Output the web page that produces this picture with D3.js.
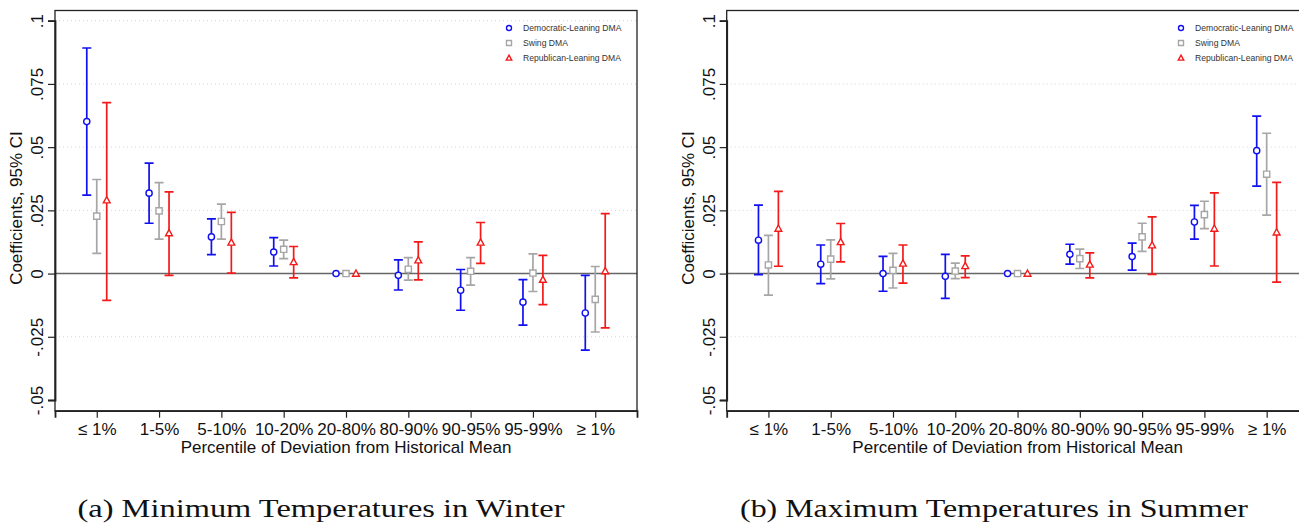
<!DOCTYPE html>
<html>
<head>
<meta charset="utf-8">
<script src="https://cdn.jsdelivr.net/npm/d3@7"></script>
<style>
  body { margin: 0; background: #fff; }
  svg { display: block; font-family: "Liberation Sans", Arial, sans-serif; }
</style>
</head>
<body>
<svg id="chart" width="1299" height="523"></svg>
<script>
// categories on the x axis
const categories = ["\u2264 1%", "1-5%", "5-10%", "10-20%", "20-80%", "80-90%", "90-95%", "95-99%", "\u2265 1%"];
const seriesNames = ["Democratic-Leaning DMA", "Swing DMA", "Republican-Leaning DMA"];
const yTicks = [-0.05, -0.025, 0, 0.025, 0.05, 0.075, 0.1];

// (a) minimum temperatures in winter
const winterDem    = [0.0601, 0.0318, 0.0145, 0.0085, 0, -0.0007, -0.0066, -0.0113, -0.0156];
const winterDemLo  = [0.0310, 0.0199, 0.0075, 0.0030, 0, -0.0065, -0.0145, -0.0204, -0.0303];
const winterDemHi  = [0.0892, 0.0437, 0.0216, 0.0142, 0,  0.0054,  0.0016, -0.0024, -0.0007];
const winterSwing   = [0.0227, 0.0248, 0.0206, 0.0096, 0, 0.0017, 0.0009, 0.0002, -0.0102];
const winterSwingLo = [0.0080, 0.0136, 0.0136, 0.0059, 0, -0.0026, -0.0046, -0.0071, -0.0231];
const winterSwingHi = [0.0372, 0.0360, 0.0275, 0.0132, 0, 0.0063, 0.0063, 0.0078, 0.0028];
const winterRep   = [0.0290, 0.0160, 0.0123, 0.0046, 0, 0.0053, 0.0123, -0.0024, 0.0010];
const winterRepLo = [-0.0106, -0.0007, 0.0002, -0.0017, 0, -0.0025, 0.0040, -0.0123, -0.0215];
const winterRepHi = [0.0676, 0.0323, 0.0242, 0.0107, 0, 0.0125, 0.0202, 0.0072, 0.0237];

// (b) maximum temperatures in summer
const summerDem    = [0.0132, 0.0037, 0, -0.0011, 0, 0.0076, 0.0067, 0.0204, 0.0486];
const summerDemLo  = [-0.0004, -0.0040, -0.0070, -0.0098, 0, 0.0037, 0.0014, 0.0136, 0.0346];
const summerDemHi  = [0.0271, 0.0113, 0.0068, 0.0076, 0, 0.0116, 0.0120, 0.0270, 0.0623];
const summerSwing   = [0.0034, 0.0057, 0.0013, 0.0010, 0, 0.0059, 0.0145, 0.0233, 0.0393];
const summerSwingLo = [-0.0085, -0.0021, -0.0057, -0.0020, 0, 0.0020, 0.0088, 0.0178, 0.0231];
const summerSwingHi = [0.0151, 0.0133, 0.0080, 0.0041, 0, 0.0097, 0.0199, 0.0286, 0.0555];
const summerRep   = [0.0178, 0.0125, 0.0040, 0.0030, 0, 0.0036, 0.0112, 0.0178, 0.0163];
const summerRepLo = [0.0029, 0.0046, -0.0038, -0.0016, 0, -0.0017, -0.0003, 0.0030, -0.0034];
const summerRepHi = [0.0325, 0.0198, 0.0113, 0.0070, 0, 0.0082, 0.0224, 0.0319, 0.0361];

const colors = ["#1010f0", "#a6a6a6", "#f41a1a"];
const shapes = ["circle", "square", "triangle"];
const offsets = [-0.16, 0, 0.16];

const svg = d3.select("#chart");

function markerPath(shape, s) {
    if (shape === "circle") return d3.arc()({innerRadius: 0, outerRadius: s, startAngle: 0, endAngle: 2 * Math.PI});
    if (shape === "square") return `M${-s},${-s}H${s}V${s}H${-s}Z`;
    const h = s * 1.15;
    return `M0,${-h}L${s * 1.1},${h * 0.75}L${-s * 1.1},${h * 0.75}Z`;
}

// stata style labels: .05, -.025, 0
function fmt(v) {
    if (v === 0) return "0";
    return (v < 0 ? "-" : "") + d3.format(".3~f")(Math.abs(v)).replace(/^0\./, ".");
}

function drawPanel(opt) {
    const x = d3.scaleLinear().domain([0.33, 9.67]).range([opt.left, opt.right]);
    const y = d3.scaleLinear().domain([-0.05, 0.1]).range([400, 20.7]);
    const g = svg.append("g");

    // grid
    g.selectAll(".grid")
        .data(yTicks.filter(t => t !== 0 && t !== -0.05 && (opt.topGrid || t !== 0.1)))
        .join("line")
        .attr("x1", opt.left).attr("x2", opt.right)
        .attr("y1", d => y(d)).attr("y2", d => y(d))
        .attr("stroke", "#d4d4d4")
        .attr("stroke-width", 1)
        .attr("stroke-dasharray", "1,3");

    // zero line
    g.append("line")
        .attr("x1", opt.left).attr("x2", opt.right)
        .attr("y1", y(0)).attr("y2", y(0))
        .attr("stroke", "#666").attr("stroke-width", 1.6);

    // frame
    g.append("rect")
        .attr("x", opt.left).attr("y", 10.5)
        .attr("width", opt.right - opt.left).attr("height", 400.5)
        .attr("fill", "none").attr("stroke", "#222").attr("stroke-width", 1.3);

    // y axis
    const yAxis = g.append("g")
        .attr("transform", `translate(${opt.left},0)`)
        .call(d3.axisLeft(y).tickValues(yTicks).tickSize(7).tickFormat(fmt));
    yAxis.select(".domain").attr("stroke", "#222").attr("stroke-width", 1.8);
    yAxis.selectAll(".tick line").attr("stroke", "#222").attr("stroke-width", 1.2);
    yAxis.selectAll(".tick text")
        .attr("x", null).attr("dy", null)
        .attr("transform", "translate(-12,0) rotate(-90)")
        .attr("text-anchor", "middle")
        .attr("font-size", 17)
        .attr("font-family", "Liberation Sans, Arial, sans-serif")
        .attr("fill", "#111");

    // x axis
    const xAxis = g.append("g")
        .attr("transform", `translate(0,410.7)`)
        .call(d3.axisBottom(x).tickValues(d3.range(1, 10)).tickSize(7).tickFormat(i => categories[i - 1]));
    xAxis.select(".domain").attr("stroke", "#222").attr("stroke-width", 1.8);
    xAxis.selectAll(".tick line").attr("stroke", "#222").attr("stroke-width", 1.2);
    xAxis.selectAll(".tick text")
        .attr("y", 24.5).attr("dy", null)
        .attr("font-size", 17)
        .attr("font-family", "Liberation Sans, Arial, sans-serif")
        .attr("fill", "#111");

    // axis titles
    g.append("text")
        .attr("x", (opt.left + 637 - 55 + opt.left) / 2)
        .attr("y", 453)
        .attr("text-anchor", "middle")
        .attr("font-size", 17)
        .attr("fill", "#111")
        .text("Percentile of Deviation from Historical Mean");
    g.append("text")
        .attr("transform", `translate(${opt.left - 33},208) rotate(-90)`)
        .attr("text-anchor", "middle")
        .attr("font-size", 17)
        .attr("fill", "#111")
        .text("Coefficients, 95% CI");

    // error bars and markers
    opt.series.forEach((s, k) => {
        const rows = s.coef.map((c, i) => ({i: i + 1, c, lo: s.lo[i], hi: s.hi[i]}));
        const sg = g.append("g");
        const withCI = rows.filter(d => d.hi !== d.lo);
        sg.selectAll(".ci")
            .data(withCI)
            .join("path")
            .attr("d", d => {
                const cx = x(d.i + offsets[k]);
                return `M${cx},${y(d.lo)}V${y(d.hi)}M${cx - 4.5},${y(d.lo)}H${cx + 4.5}M${cx - 4.5},${y(d.hi)}H${cx + 4.5}`;
            })
            .attr("fill", "none")
            .attr("stroke", colors[k])
            .attr("stroke-width", 1.7);
        sg.selectAll(".pt")
            .data(rows)
            .join("path")
            .attr("transform", d => `translate(${x(d.i + offsets[k])},${y(d.c)})`)
            .attr("d", markerPath(shapes[k], 3.1))
            .attr("fill", "#fff")
            .attr("stroke", colors[k])
            .attr("stroke-width", 1.4);
    });

    // legend
    const lg = g.append("g").attr("transform", `translate(${opt.legendX},0)`);
    seriesNames.forEach((name, k) => {
        const ly = 28 + k * 15;
        lg.append("path")
            .attr("transform", `translate(0,${ly})`)
            .attr("d", markerPath(shapes[k], 2.5))
            .attr("fill", "#fff")
            .attr("stroke", colors[k])
            .attr("stroke-width", 1.4);
        lg.append("text")
            .attr("x", 14).attr("y", ly + 3)
            .attr("font-size", 8.6)
            .attr("fill", "#333")
            .text(name);
    });

    // caption
    svg.append("text")
        .attr("x", opt.captionX)
        .attr("y", 517)
        .attr("text-anchor", "middle")
        .attr("font-family", "Liberation Serif, 'Times New Roman', serif")
        .attr("font-size", 25)
        .attr("textLength", opt.captionW)
        .attr("lengthAdjust", "spacingAndGlyphs")
        .attr("fill", "#111")
        .text(opt.caption);
}

drawPanel({
    left: 55, right: 637, legendX: 509, topGrid: true,
    caption: "(a) Minimum Temperatures in Winter", captionX: 321, captionW: 487,
    series: [
        {coef: winterDem, lo: winterDemLo, hi: winterDemHi},
        {coef: winterSwing, lo: winterSwingLo, hi: winterSwingHi},
        {coef: winterRep, lo: winterRepLo, hi: winterRepHi}
    ]
});

drawPanel({
    left: 726.7, right: 1308.4, legendX: 1181, topGrid: false,
    caption: "(b) Maximum Temperatures in Summer", captionX: 994, captionW: 508,
    series: [
        {coef: summerDem, lo: summerDemLo, hi: summerDemHi},
        {coef: summerSwing, lo: summerSwingLo, hi: summerSwingHi},
        {coef: summerRep, lo: summerRepLo, hi: summerRepHi}
    ]
});
</script>
</body>
</html>
